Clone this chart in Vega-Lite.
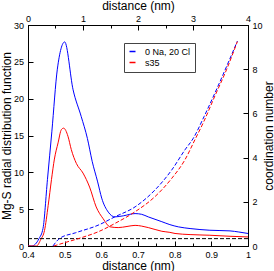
{
  "$schema": "https://vega.github.io/schema/vega-lite/v6.json",
  "width": 220,
  "height": 221,
  "autosize": {"type": "none"},
  "padding": {"left": 28, "top": 25, "right": 26, "bottom": 25},
  "background": "white",
  "config": {
    "font": "Liberation Sans",
    "view": {"stroke": "black", "strokeWidth": 1},
    "axis": {
      "domainColor": "black",
      "tickColor": "black",
      "labelColor": "black",
      "titleColor": "black",
      "labelFontSize": 9,
      "titleFontSize": 12,
      "titleFontWeight": "normal",
      "grid": false,
      "labelFlush": false,
      "labelOverlap": false
    }
  },
  "datasets": {
    "rdf": [
      {"distance": 0.40, "g": 0, "series": "0 Na, 20 Cl"},
      {"distance": 0.41, "g": 0, "series": "0 Na, 20 Cl"},
      {"distance": 0.43, "g": 1.0, "series": "0 Na, 20 Cl"},
      {"distance": 0.441, "g": 2.4, "series": "0 Na, 20 Cl"},
      {"distance": 0.453, "g": 9.0, "series": "0 Na, 20 Cl"},
      {"distance": 0.465, "g": 15.5, "series": "0 Na, 20 Cl"},
      {"distance": 0.48, "g": 24.0, "series": "0 Na, 20 Cl"},
      {"distance": 0.50, "g": 27.7, "series": "0 Na, 20 Cl"},
      {"distance": 0.523, "g": 21.2, "series": "0 Na, 20 Cl"},
      {"distance": 0.545, "g": 17.6, "series": "0 Na, 20 Cl"},
      {"distance": 0.562, "g": 14.6, "series": "0 Na, 20 Cl"},
      {"distance": 0.575, "g": 11.5, "series": "0 Na, 20 Cl"},
      {"distance": 0.59, "g": 8.7, "series": "0 Na, 20 Cl"},
      {"distance": 0.601, "g": 6.5, "series": "0 Na, 20 Cl"},
      {"distance": 0.619, "g": 4.6, "series": "0 Na, 20 Cl"},
      {"distance": 0.637, "g": 3.95, "series": "0 Na, 20 Cl"},
      {"distance": 0.66, "g": 4.1, "series": "0 Na, 20 Cl"},
      {"distance": 0.692, "g": 4.4, "series": "0 Na, 20 Cl"},
      {"distance": 0.71, "g": 4.3, "series": "0 Na, 20 Cl"},
      {"distance": 0.728, "g": 3.95, "series": "0 Na, 20 Cl"},
      {"distance": 0.765, "g": 3.3, "series": "0 Na, 20 Cl"},
      {"distance": 0.787, "g": 2.9, "series": "0 Na, 20 Cl"},
      {"distance": 0.81, "g": 2.6, "series": "0 Na, 20 Cl"},
      {"distance": 0.842, "g": 2.37, "series": "0 Na, 20 Cl"},
      {"distance": 0.896, "g": 2.14, "series": "0 Na, 20 Cl"},
      {"distance": 0.951, "g": 2.05, "series": "0 Na, 20 Cl"},
      {"distance": 0.975, "g": 1.9, "series": "0 Na, 20 Cl"},
      {"distance": 1.0, "g": 1.7, "series": "0 Na, 20 Cl"},
      {"distance": 0.40, "g": 0, "series": "s35"},
      {"distance": 0.423, "g": 0, "series": "s35"},
      {"distance": 0.435, "g": 0.9, "series": "s35"},
      {"distance": 0.445, "g": 2.1, "series": "s35"},
      {"distance": 0.455, "g": 5.5, "series": "s35"},
      {"distance": 0.464, "g": 9.0, "series": "s35"},
      {"distance": 0.472, "g": 11.8, "series": "s35"},
      {"distance": 0.482, "g": 14.0, "series": "s35"},
      {"distance": 0.491, "g": 15.8, "series": "s35"},
      {"distance": 0.497, "g": 16.0, "series": "s35"},
      {"distance": 0.509, "g": 14.9, "series": "s35"},
      {"distance": 0.518, "g": 13.1, "series": "s35"},
      {"distance": 0.532, "g": 11.2, "series": "s35"},
      {"distance": 0.55, "g": 9.9, "series": "s35"},
      {"distance": 0.568, "g": 8.0, "series": "s35"},
      {"distance": 0.586, "g": 5.3, "series": "s35"},
      {"distance": 0.605, "g": 3.7, "series": "s35"},
      {"distance": 0.624, "g": 2.6, "series": "s35"},
      {"distance": 0.646, "g": 2.5, "series": "s35"},
      {"distance": 0.67, "g": 2.65, "series": "s35"},
      {"distance": 0.692, "g": 2.8, "series": "s35"},
      {"distance": 0.728, "g": 2.5, "series": "s35"},
      {"distance": 0.765, "g": 2.0, "series": "s35"},
      {"distance": 0.787, "g": 1.85, "series": "s35"},
      {"distance": 0.801, "g": 1.7, "series": "s35"},
      {"distance": 0.842, "g": 1.55, "series": "s35"},
      {"distance": 0.896, "g": 1.46, "series": "s35"},
      {"distance": 0.951, "g": 1.32, "series": "s35"},
      {"distance": 1.0, "g": 1.23, "series": "s35"}
    ],
    "cn": [
      {"distance": 0.468, "n": 0, "series": "0 Na, 20 Cl"},
      {"distance": 0.486, "n": 0.34, "series": "0 Na, 20 Cl"},
      {"distance": 0.53, "n": 0.6, "series": "0 Na, 20 Cl"},
      {"distance": 0.591, "n": 0.94, "series": "0 Na, 20 Cl"},
      {"distance": 0.637, "n": 1.32, "series": "0 Na, 20 Cl"},
      {"distance": 0.692, "n": 1.77, "series": "0 Na, 20 Cl"},
      {"distance": 0.746, "n": 2.53, "series": "0 Na, 20 Cl"},
      {"distance": 0.792, "n": 3.44, "series": "0 Na, 20 Cl"},
      {"distance": 0.828, "n": 4.35, "series": "0 Na, 20 Cl"},
      {"distance": 0.851, "n": 4.88, "series": "0 Na, 20 Cl"},
      {"distance": 0.88, "n": 5.85, "series": "0 Na, 20 Cl"},
      {"distance": 0.91, "n": 6.93, "series": "0 Na, 20 Cl"},
      {"distance": 0.942, "n": 8.14, "series": "0 Na, 20 Cl"},
      {"distance": 0.971, "n": 9.27, "series": "0 Na, 20 Cl"},
      {"distance": 0.47, "n": 0, "series": "s35"},
      {"distance": 0.50, "n": 0.15, "series": "s35"},
      {"distance": 0.55, "n": 0.4, "series": "s35"},
      {"distance": 0.591, "n": 0.64, "series": "s35"},
      {"distance": 0.637, "n": 1.02, "series": "s35"},
      {"distance": 0.692, "n": 1.55, "series": "s35"},
      {"distance": 0.746, "n": 2.23, "series": "s35"},
      {"distance": 0.792, "n": 3.06, "series": "s35"},
      {"distance": 0.828, "n": 3.9, "series": "s35"},
      {"distance": 0.855, "n": 4.8, "series": "s35"},
      {"distance": 0.88, "n": 5.65, "series": "s35"},
      {"distance": 0.91, "n": 6.8, "series": "s35"},
      {"distance": 0.942, "n": 8.0, "series": "s35"},
      {"distance": 0.971, "n": 9.25, "series": "s35"}
    ],
    "ref": [{"g": 1}]
  },
  "layer": [
    {
      "encoding": {
        "y": {
          "field": "g", "type": "quantitative",
          "scale": {"domain": [0, 30], "nice": false},
          "axis": {
            "orient": "left", "title": "Mg-S radial distribution function",
            "values": [0, 5, 10, 15, 20, 25, 30],
            "tickSize": -5,
            "labelPadding": 9.5,
            "labelOverlap": false,
            "titlePadding": 0
          }
        }
      },
      "layer": [
        {
          "data": {"name": "rdf"},
          "mark": {"type": "line", "strokeWidth": 1, "interpolate": "monotone", "clip": true},
          "encoding": {
            "x": {
              "field": "distance", "type": "quantitative",
              "scale": {"domain": [0.4, 1], "nice": false, "zero": false},
              "axis": {
                "orient": "bottom", "title": "distance (nm)",
                "values": [0.4, 0.45, 0.5, 0.55, 0.6, 0.65, 0.7, 0.75, 0.8, 0.85, 0.9, 0.95, 1],
                "format": ".2~f",
                "labelExpr": "round(datum.value*100) % 10 == 0 ? datum.label : ''",
                "tickSize": {"condition": {"test": "round(datum.value*100) % 10 != 0", "value": -3}, "value": -5},
                "labelPadding": 9,
                "labelOverlap": false,
                "titlePadding": -1
              }
            },
            "color": {
              "field": "series", "type": "nominal",
              "scale": {"domain": ["0 Na, 20 Cl", "s35"], "range": ["#0000ff", "#ff0000"]},
              "legend": {
                "title": null, "orient": "none", "legendX": 96, "legendY": 18,
                "symbolType": "stroke", "symbolSize": 36, "symbolStrokeWidth": 1.5,
                "labelFontSize": 9, "labelColor": "black", "padding": 4,
                "strokeColor": "#444444", "fillColor": "white", "rowPadding": 1,
                "labelOffset": 8
              }
            }
          }
        },
        {
          "data": {"name": "ref"},
          "mark": {"type": "rule", "color": "black", "strokeWidth": 1, "strokeDash": [4, 2]},
          "encoding": {}
        }
      ]
    },
    {
      "data": {"name": "cn"},
      "mark": {"type": "line", "strokeWidth": 1, "strokeDash": [4, 2], "interpolate": "monotone"},
      "encoding": {
        "x": {
          "field": "distance", "type": "quantitative",
          "axis": {
            "orient": "top", "title": "distance (nm)",
            "values": [0.4, 0.475, 0.55, 0.625, 0.7, 0.775, 0.85, 0.925, 1.0],
            "labelExpr": "round((datum.value-0.4)/0.075) % 2 == 0 ? format(round((datum.value-0.4)/0.15), 'd') : ''",
            "tickSize": {"condition": {"test": "round((datum.value-0.4)/0.075) % 2 != 0", "value": -3}, "value": -5},
            "labelPadding": 7,
            "labelOverlap": false,
            "titlePadding": 0
          }
        },
        "y": {
          "field": "n", "type": "quantitative",
          "scale": {"domain": [0, 10], "nice": false},
          "axis": {
            "orient": "right", "title": "coordination number",
            "values": [0, 2, 4, 6, 8, 10],
            "tickSize": -5,
            "labelPadding": 9,
            "labelOverlap": false,
            "titleAngle": 270,
            "titleBaseline": "top",
            "titlePadding": 1
          }
        },
        "color": {
          "field": "series", "type": "nominal",
          "legend": null
        }
      }
    }
  ],
  "resolve": {"scale": {"y": "independent"}, "axis": {"x": "independent"}}
}
